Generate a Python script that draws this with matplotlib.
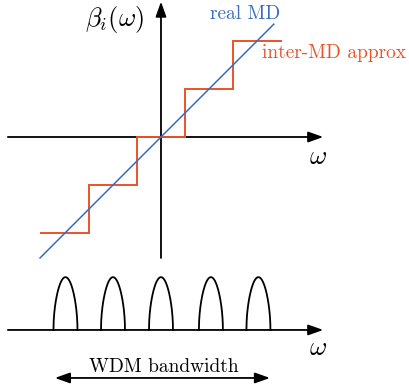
import numpy as np
import matplotlib
matplotlib.use("Agg")
from matplotlib import pyplot as plt

plt.rcParams["mathtext.fontset"] = "cm"

# staircase (inter-MD approx): one level per channel
step_levels = [-2, -1, 0, 1, 2]
step_edges = [-2.5, -1.5, -0.5, 0.5, 1.5, 2.5]

# real MD line, slope 1 through origin
real_x = [-2.52, 2.35]
real_y = [-2.52, 2.35]

# WDM channels along the bottom axis
pulse_centers = [-1.99, -1.0, 0.0, 1.04, 2.03]
pulse_halfwidth = 0.25
pulse_height = 1.1

blue = "#3b6cba"
orange = "#e8532b"

fig = plt.figure(figsize=(4.09, 3.92), dpi=100)
ax = fig.add_axes([0, 0, 1, 1])
ax.set_xlim(-3.354, 5.167)
ax.set_ylim(-5.3125, 2.854)
ax.axis("off")

arrow = dict(arrowstyle="-|>,head_length=0.9,head_width=0.32", color="black", lw=1.3,
             shrinkA=0, shrinkB=0)

# top axes
ax.annotate("", xy=(3.38, 0), xytext=(-3.19, 0), arrowprops=arrow)
ax.annotate("", xy=(0, 2.82), xytext=(0, -2.52), arrowprops=arrow)

# staircase
sx = []
sy = []
for i, lev in enumerate(step_levels):
    sx += [step_edges[i], step_edges[i + 1]]
    sy += [lev, lev]
ax.plot(sx, sy, color=orange, lw=1.4, solid_joinstyle="miter", zorder=3)
ax.plot(real_x, real_y, color=blue, lw=1.1, zorder=4)

ax.text(-0.96, 2.44, r"$\beta_i(\omega)$", fontsize=19, ha="center", va="center")
ax.text(1.75, 2.56, "real MD", color=blue, fontsize=14, family="cmr10",
        ha="center", va="center")
ax.text(3.6, 1.75, "inter-MD approx", color=orange, fontsize=14, family="cmr10",
        ha="center", va="center")
ax.text(3.27, -0.42, r"$\omega$", fontsize=19, ha="center", va="center")

# bottom axis with WDM channels
base = -4.02
ax.annotate("", xy=(3.38, base), xytext=(-3.19, base), arrowprops=arrow)
t = np.linspace(-1, 1, 200)
for c in pulse_centers:
    ax.plot(c + pulse_halfwidth * t, base + pulse_height * np.cos(np.pi * t / 2) ** 0.5,
            color="black", lw=1.3)
ax.text(3.27, -4.4, r"$\omega$", fontsize=19, ha="center", va="center")

arrow2 = dict(arrow, arrowstyle="<|-|>,head_length=0.9,head_width=0.32")
ax.annotate("", xy=(2.27, -5.02), xytext=(-2.21, -5.02), arrowprops=arrow2)
ax.text(0.06, -4.79, "WDM bandwidth", fontsize=14, family="cmr10",
        ha="center", va="center")

fig.savefig("out.png", dpi=100)
